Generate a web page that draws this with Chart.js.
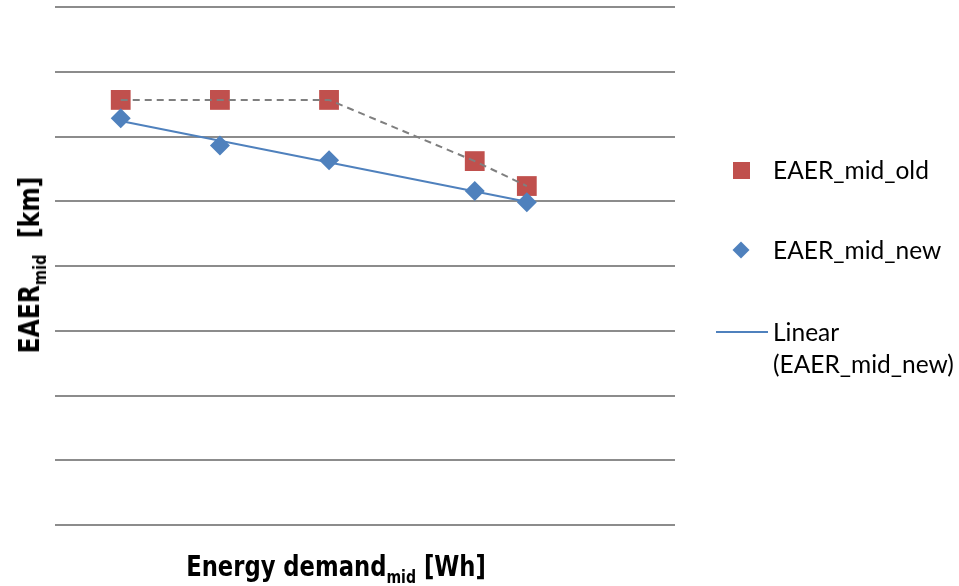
<!DOCTYPE html>
<html>
<head>
<meta charset="utf-8">
<script src="https://cdn.jsdelivr.net/npm/chart.js@4/dist/chart.umd.min.js"></script>
<style>
  html, body { margin: 0; padding: 0; background: #fff; }
  #wrap { position: relative; width: 959px; height: 586px; overflow: hidden; }
  #chart { position: absolute; left: 0; top: 0; }
  .axis-title {
    position: absolute;
    font-family: "Liberation Sans Narrow", "DejaVu Sans Condensed", "DejaVu Sans", sans-serif;
    font-weight: bold;
    font-size: 29px;
    color: #000;
    white-space: nowrap;
  }
  .axis-title sub { font-size: 18px; vertical-align: -7px; line-height: 0; }
  #ytitle { left: 29px; top: 265px; transform: translate(-50%, -50%) rotate(-90deg) scaleX(0.9); }
  #xtitle { left: 336px; top: 566px; transform: translate(-50%, -50%) scaleX(0.87); }
  .legend {
    position: absolute;
    font-family: Lato, "Open Sans", sans-serif;
    font-size: 24.5px;
    color: #000;
    white-space: nowrap;
    line-height: 32px;
  }
  .sym { position: absolute; }
</style>
</head>
<body>
<div id="wrap">
  <canvas id="chart" width="959" height="586"></canvas>
  <div class="axis-title" id="ytitle">EAER<sub>mid</sub>&nbsp; [km]</div>
  <div class="axis-title" id="xtitle">Energy demand<sub>mid</sub> [Wh]</div>

  <div class="sym" style="left:733px;top:162px;width:17px;height:17px;background:#c0504d;"></div>
  <div class="legend" style="left:773px;top:154px;">EAER_mid_old</div>

  <div class="sym" style="left:735px;top:244px;width:12px;height:12px;background:#4f81bd;transform:rotate(45deg);"></div>
  <div class="legend" style="left:773px;top:234px;">EAER_mid_new</div>

  <div class="sym" style="left:716px;top:331px;width:52px;height:2px;background:#4f81bd;"></div>
  <div class="legend" style="left:773px;top:316px;">Linear<br>(EAER_mid_new)</div>
</div>
<script>
// energy demand (x) and range (y) per configuration
var demandOld = [10.6, 26.6, 44.2, 67.7, 76.1];
var eaerOld = [131.3, 131.3, 131.3, 112.4, 104.7];
var demandNew = [10.6, 26.6, 44.2, 67.7, 76.1];
var eaerNew = [125.6, 117.2, 112.7, 103.2, 99.7];

var yMin = 0;
var yMax = 160;
var yStep = 20;

function toPoints(xs, ys) {
  return xs.map(function(x, i) { return { x: x, y: ys[i] }; });
}

// least squares fit for the linear trend line
function linearFit(xs, ys) {
  var n = xs.length, sx = 0, sy = 0, sxx = 0, sxy = 0;
  for (var i = 0; i < n; i++) {
    sx += xs[i]; sy += ys[i];
    sxx += xs[i] * xs[i]; sxy += xs[i] * ys[i];
  }
  var slope = (n * sxy - sx * sy) / (n * sxx - sx * sx);
  var intercept = (sy - slope * sx) / n;
  var x0 = Math.min.apply(null, xs), x1 = Math.max.apply(null, xs);
  return [{ x: x0, y: intercept + slope * x0 }, { x: x1, y: intercept + slope * x1 }];
}

var ctx = document.getElementById('chart');
new Chart(ctx, {
  type: 'scatter',
  data: {
    datasets: [
      {
        label: 'EAER_mid_old',
        data: toPoints(demandOld, eaerOld),
        pointStyle: 'rect',
        pointRadius: 14,
        pointHoverRadius: 14,
        backgroundColor: '#c0504d',
        borderColor: '#c0504d',
        borderWidth: 0,
        order: 4
      },
      {
        label: 'old connector',
        data: toPoints(demandOld, eaerOld),
        showLine: true,
        pointRadius: 0,
        borderColor: '#7f7f7f',
        borderWidth: 2,
        borderDash: [7, 5],
        order: 3
      },
      {
        label: 'Linear (EAER_mid_new)',
        data: linearFit(demandNew, eaerNew),
        showLine: true,
        pointRadius: 0,
        borderColor: '#4f81bd',
        borderWidth: 2,
        order: 2
      },
      {
        label: 'EAER_mid_new',
        data: toPoints(demandNew, eaerNew),
        pointStyle: 'rectRot',
        pointRadius: 10,
        pointHoverRadius: 10,
        backgroundColor: '#4f81bd',
        borderColor: '#4f81bd',
        borderWidth: 0,
        order: 1
      }
    ]
  },
  options: {
    responsive: false,
    animation: false,
    layout: { autoPadding: false, padding: { left: 55, right: 284, top: 7, bottom: 61 } },
    plugins: { legend: { display: false }, tooltip: { enabled: false } },
    scales: {
      x: {
        display: false,
        min: 0,
        max: 100
      },
      y: {
        min: yMin,
        max: yMax,
        ticks: { display: false, stepSize: yStep },
        grid: { color: '#8c8c8c', lineWidth: 2, drawTicks: false },
        border: { display: false }
      }
    }
  }
});
</script>
</body>
</html>
